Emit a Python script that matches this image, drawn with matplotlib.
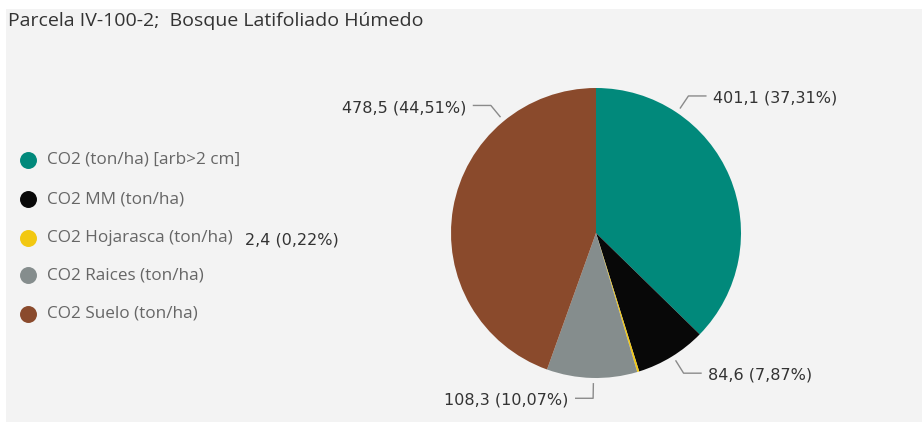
import numpy as np
import matplotlib.pyplot as plt
from matplotlib.patches import Rectangle

title = "Parcela IV-100-2;  Bosque Latifoliado Húmedo"
categories = ["CO2 (ton/ha) [arb>2 cm]", "CO2 MM (ton/ha)", "CO2 Hojarasca (ton/ha)",
              "CO2 Raices (ton/ha)", "CO2 Suelo (ton/ha)"]
values = [401.1, 84.6, 2.4, 108.3, 478.5]
percents = [37.31, 7.87, 0.22, 10.07, 44.51]
colors = ["#01897B", "#080808", "#F2C811", "#858D8D", "#8A4A2C"]

# label anchor angles (deg) on the pie edge, roughly where Power BI put them
leader_angles = [56, -58, None, -91, 129.5]

W, H = 922, 422
fig = plt.figure(figsize=(W / 100, H / 100), dpi=100)
fig.patch.set_facecolor("white")

bg = fig.add_axes([0, 0, 1, 1])
bg.set_xlim(0, W)
bg.set_ylim(H, 0)
bg.axis("off")
bg.add_patch(Rectangle((6, 9), W - 6, H - 9, facecolor="#f3f3f3", edgecolor="none"))

bg.text(8, 21, title, fontsize=14, color="#333333", va="center", ha="left",
        family="Open Sans")

# legend
legend_y = [160, 199, 238, 275, 314]
for lab, col, y in zip(categories, colors, legend_y):
    bg.scatter([28], [y], s=125, color=col, zorder=3)
    bg.text(47, y, lab, fontsize=12.3, color="#666666", va="center", ha="left",
            family="Open Sans")

# pie
cx, cy, r = 596, 233, 145
pax = fig.add_axes([(cx - r) / W, (H - cy - r) / H, 2 * r / W, 2 * r / H])
wedges, _ = pax.pie(values, colors=colors, startangle=90, counterclock=False,
                    radius=1, wedgeprops=dict(linewidth=0.6, edgecolor="none"))
pax.set_xlim(-1, 1)
pax.set_ylim(-1, 1)
pax.set_aspect("equal")


def fmt(v, p):
    return f"{v:.1f} ({p:.2f}%)".replace(".", ",")


for v, p, ang in zip(values, percents, leader_angles):
    if ang is None:
        continue
    a = np.deg2rad(ang)
    x0, y0 = 1.04 * np.cos(a), 1.04 * np.sin(a)
    x1, y1 = 1.14 * np.cos(a), 1.14 * np.sin(a)
    side = 1 if np.cos(a) > 0.01 else -1
    x2 = x1 + side * 0.12
    pax.plot([x0, x1, x2], [y0, y1, y1], color="#8a8a8a", lw=1, clip_on=False)
    pax.text(x2 + side * 0.05, y1 - 0.015, fmt(v, p), fontsize=11.5, color="#333333",
             ha="left" if side > 0 else "right", va="center", clip_on=False)

# the tiny slice's label sits next to the legend
bg.text(245, 240, fmt(values[2], percents[2]), fontsize=11.5, color="#333333",
        va="center", ha="left")

fig.savefig("out.png", dpi=100, facecolor=fig.get_facecolor())
